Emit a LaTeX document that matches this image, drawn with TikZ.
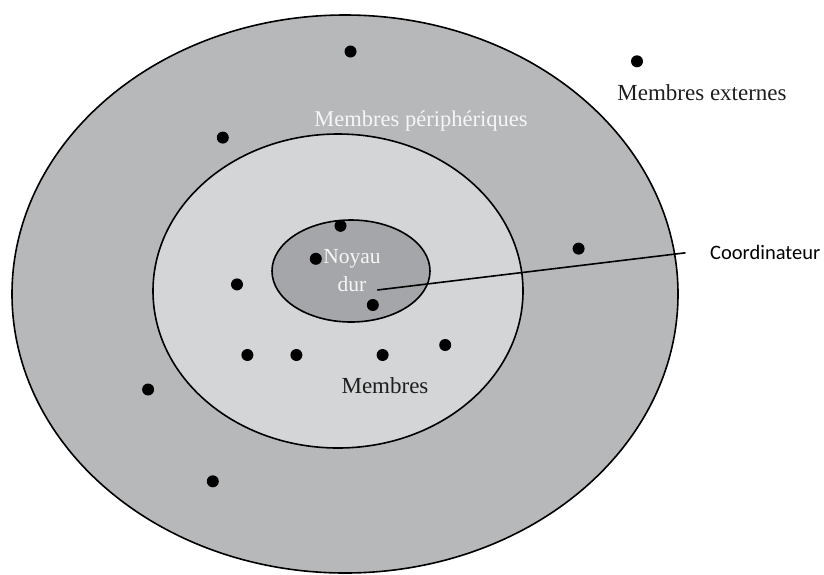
\documentclass[tikz,border=0pt]{standalone}
\usepackage{fontspec}
\setmainfont{Liberation Serif}
\newfontfamily\calibfont{Carlito}
\usetikzlibrary{shapes.geometric}
\definecolor{outerg}{RGB}{183,184,186}
\definecolor{midg}{RGB}{212,213,214}
\definecolor{inng}{RGB}{165,166,169}
\definecolor{txtw}{RGB}{246,246,246}
\definecolor{txtd}{RGB}{30,30,30}
\begin{document}
\begin{tikzpicture}[x=1pt,y=-1pt,
  zone/.style={ellipse, draw=black, line width=1.6pt, inner sep=0pt},
  dot/.style={circle, fill=black, inner sep=0pt, minimum size=12pt},
  lab/.style={anchor=base, inner sep=0pt, font=\fontsize{23}{26}\selectfont},
  link/.style={draw=black, line width=1.6pt}
]
\useasboundingbox (0,0) rectangle (824,574);
% zones
\node[zone, fill=outerg, minimum width=666pt, minimum height=558pt] (outer) at (345,294) {};
\node[zone, fill=midg, minimum width=370pt, minimum height=314pt] (middle) at (338,291) {};
\node[zone, fill=inng, minimum width=158pt, minimum height=102pt] (inner) at (351,271) {};
% labels
\node[lab, text=txtd] (ext) at (702,100.7) {Membres externes};
\node[lab, text=txtw, font=\fontsize{22.5}{26}\selectfont] (peri) at (421,126) {Membres périphériques};
\node[lab, text=txtd] (memb) at (385,393.3) {Membres};
\node[lab, text=txtw, font=\fontsize{21.5}{24}\selectfont] (noyau) at (352,263.3) {Noyau};
\node[lab, text=txtw, font=\fontsize{21.5}{24}\selectfont] (dur) at (352,291.7) {dur};
\node[anchor=base west, inner sep=0pt, font=\calibfont\fontsize{20.5}{24}\selectfont, text=black] (coord) at (710,259.3) {Coordinateur};
% dots
\node[dot] (d1) at (350.5,51.5) {};
\node[dot] (d2) at (637,61.3) {};
\node[dot] (d3) at (222.8,137.6) {};
\node[dot] (d4) at (340.5,225.8) {};
\node[dot] (d5) at (315.8,258.8) {};
\node[dot] (d6) at (578.6,248.6) {};
\node[dot] (d7) at (237,284.4) {};
\node[dot] (d8) at (372.8,305) {};
\node[dot] (d9) at (247.4,355) {};
\node[dot] (d10) at (296.4,355) {};
\node[dot] (d11) at (382.6,355) {};
\node[dot] (d12) at (445.2,345) {};
\node[dot] (d13) at (148.1,389.5) {};
\node[dot] (d14) at (212.8,481.3) {};
% coordinator connector
\coordinate (cs) at (377.3,290);
\coordinate (ce) at (685.5,252.8);
\path[link] (cs) -- (ce);
\end{tikzpicture}
\end{document}
